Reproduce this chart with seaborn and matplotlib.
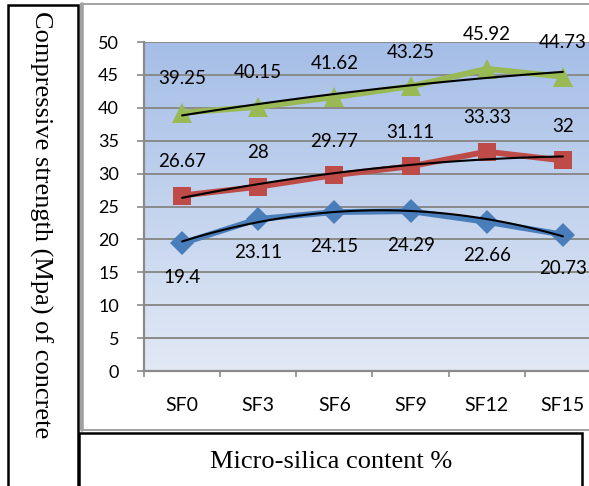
import numpy as np
import pandas as pd
import matplotlib
matplotlib.use("Agg")
import matplotlib.pyplot as plt
from matplotlib.patches import Rectangle
from matplotlib.colors import LinearSegmentedColormap
import seaborn as sns

# ---- data ----
categories = ["SF0", "SF3", "SF6", "SF9", "SF12", "SF15"]
series_low = [19.4, 23.11, 24.15, 24.29, 22.66, 20.73]
series_mid = [26.67, 28, 29.77, 31.11, 33.33, 32]
series_high = [39.25, 40.15, 41.62, 43.25, 45.92, 44.73]
y_ticks = [0, 5, 10, 15, 20, 25, 30, 35, 40, 45, 50]

W, H = 589, 486
sns.set_theme(style="white")
plt.rcParams["font.family"] = ["Lato", "DejaVu Sans"]

fig = plt.figure(figsize=(W / 100, H / 100), dpi=100)
fig.patch.set_facecolor("white")


def fx(px):
    return px / W


def fy(py):
    return 1 - py / H


# plot area (extends past the right edge of the canvas)
left_px, right_px, top_px, bot_px = 144, 601, 42, 371
ax = fig.add_axes([fx(left_px), fy(bot_px), fx(right_px - left_px),
                   (bot_px - top_px) / H])

x_idx = np.arange(len(categories))
df = pd.DataFrame({"x": x_idx, "low": series_low, "mid": series_mid,
                   "high": series_high})

# vertical gradient fill of the plot area
grad = LinearSegmentedColormap.from_list("bg", ["#e2e9f5", "#a5bee7"])
ax.imshow(np.linspace(0, 1, 256).reshape(-1, 1), cmap=grad, origin="lower",
          aspect="auto", extent=[-0.5, 5.5, 0, 50], zorder=0)

ax.set_xlim(-0.5, 5.5)
ax.set_ylim(0, 50)

grid_c = "#8a8a8a"
for yv in y_ticks[1:]:
    ax.axhline(yv, color=grid_c, lw=1.4, zorder=1)

styles = [
    ("low", "#4a7ebb", "D", 12, -1),
    ("mid", "#be4b48", "s", 13, 1),
    ("high", "#98b954", "^", 15, 1),
]
for col, color, mk, ms, side in styles:
    sns.lineplot(data=df, x="x", y=col, ax=ax, color=color, lw=4.2,
                 marker=mk, markersize=ms, markeredgecolor=color,
                 markeredgewidth=0, zorder=3)
    # second-order polynomial trendline
    coef = np.polyfit(df["x"], df[col], 2)
    xs = np.linspace(0, 5, 100)
    ax.plot(xs, np.polyval(coef, xs), color="black", lw=1.5, zorder=4)
    for xv, yv in zip(df["x"], df[col]):
        ax.annotate(f"{yv:g}", (xv, yv), xytext=(0, 24.5 * side),
                    textcoords="offset points", ha="center", va="center",
                    fontsize=13.5, color="black", zorder=5)

ax.set_xlabel("")
ax.set_ylabel("")
ax.set_yticks(y_ticks)
ax.set_yticklabels([str(t) for t in y_ticks])
ax.set_xticks(x_idx)
ax.set_xticklabels(categories)
ax.set_xticks(np.arange(-0.5, 6.0, 1.0), minor=True)
ax.tick_params(axis="y", which="major", direction="out", length=5,
               width=1.2, color=grid_c, pad=13, labelsize=13,
               labelcolor="black", left=True)
ax.tick_params(axis="x", which="major", length=0, pad=19, labelsize=14,
               labelcolor="black")
ax.tick_params(axis="x", which="minor", direction="out", length=4.5,
               width=1.2, color=grid_c, bottom=True)
for s in ["top", "right"]:
    ax.spines[s].set_visible(False)
for s in ["left", "bottom"]:
    ax.spines[s].set_color(grid_c)
    ax.spines[s].set_linewidth(1.6)
    ax.spines[s].set_zorder(2)


def add_box(x0, y0, x1, y1, color, lw):
    fig.add_artist(Rectangle((fx(x0), fy(y1)), fx(x1 - x0), (y1 - y0) / H,
                             transform=fig.transFigure, fill=False,
                             edgecolor=color, lw=lw, zorder=10))


# chart area border
add_box(81, 4, 640, 430, "#9a9a9a", 1.3)
fig.add_artist(plt.Line2D([fx(81.5), fx(81.5)], [fy(4), fy(430)],
                          transform=fig.transFigure, color="#a0a0a0",
                          lw=2.6, zorder=10))
# title boxes
add_box(8, 5, 78, 520, "black", 1.8)
add_box(79, 433, 582, 520, "black", 1.8)

fig.text(fx(41), fy(225), "Compressive strength (Mpa) of concrete",
         rotation=-90, ha="center", va="center", fontsize=19,
         family=["Liberation Serif", "DejaVu Serif"], color="black")
fig.text(fx(331), fy(462), "Micro-silica content %", ha="center",
         va="center", fontsize=19, family=["Liberation Serif", "DejaVu Serif"],
         color="black")

fig.savefig("out.png", dpi=100)
